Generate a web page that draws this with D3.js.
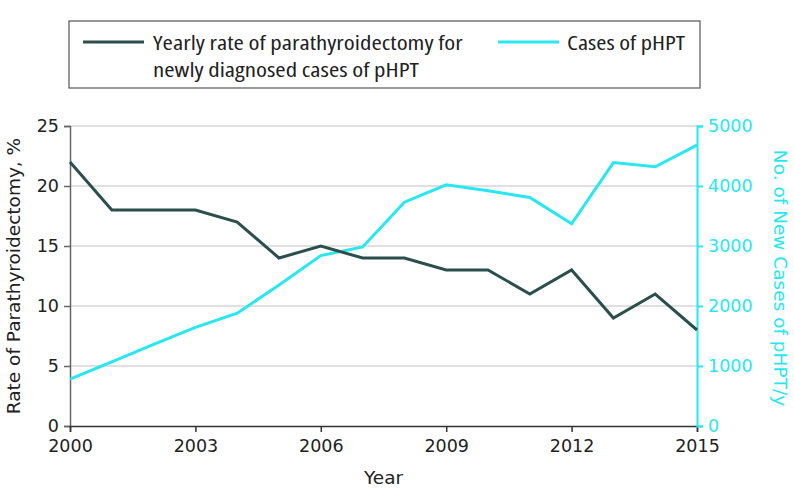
<!DOCTYPE html>
<html><head><meta charset="utf-8">
<script src="https://cdn.jsdelivr.net/npm/d3@7"></script>
<style>
body{margin:0;background:#fff;}
svg text{font-family:"DejaVu Sans",sans-serif;}
.leg{font-family:"Open Sans",sans-serif;font-stretch:87.5%;}
</style></head>
<body><svg id="c" width="794" height="504"></svg>
<script>
const years = [2000,2001,2002,2003,2004,2005,2006,2007,2008,2009,2010,2011,2012,2013,2014,2015];
const rate = [22,18,18,18,17,14,15,14,14,13,13,11,13,9,11,8];
const cases = [780,1070,1360,1645,1880,2350,2840,2985,3730,4020,3920,3810,3370,4390,4320,4680];
const xTicks = [2000,2003,2006,2009,2012,2015];
const yTicksLeft = [0,5,10,15,20,25];
const yTicksRight = [0,1000,2000,3000,4000,5000];
const legendLabels = [["Yearly rate of parathyroidectomy for","newly diagnosed cases of pHPT"],["Cases of pHPT"]];

const dark = "#2b4f4c", cyan = "#27e8f0";
const svg = d3.select("#c");
const m = {l:70, r:697, t:126, b:426};
const x = d3.scaleLinear().domain([2000,2015]).range([m.l,m.r]);
const yL = d3.scaleLinear().domain([0,25]).range([m.b,m.t]);
const yR = d3.scaleLinear().domain([0,5000]).range([m.b,m.t]);

// grid
svg.append("g").selectAll("line").data(yTicksLeft.filter(d=>d>0)).join("line")
  .attr("x1",m.l).attr("x2",m.r).attr("y1",d=>yL(d)).attr("y2",d=>yL(d))
  .attr("stroke","#d6d6d6").attr("stroke-width",1.5);

// left axis
const gL = svg.append("g").attr("transform",`translate(${m.l},0)`)
  .call(d3.axisLeft(yL).tickValues(yTicksLeft).tickSize(6).tickPadding(5));
gL.select(".domain").attr("stroke","#666").attr("stroke-width",1.5);
gL.selectAll(".tick line").attr("stroke","#666").attr("stroke-width",1.5);
gL.selectAll("text").attr("fill","#222");

// x axis
const gX = svg.append("g").attr("transform",`translate(0,${m.b})`)
  .call(d3.axisBottom(x).tickValues(xTicks).tickFormat(d3.format("d")).tickSize(6).tickPadding(8));
gX.select(".domain").attr("stroke","#333").attr("stroke-width",1.5);
gX.selectAll(".tick line").attr("stroke","#333").attr("stroke-width",1.5);
gX.selectAll("text").attr("fill","#222");

// right axis
const gR = svg.append("g").attr("transform",`translate(${m.r},0)`)
  .call(d3.axisRight(yR).tickValues(yTicksRight).tickFormat(d3.format("d")).tickSize(6).tickPadding(5));
gR.select(".domain").attr("stroke",cyan).attr("stroke-width",2);
gR.selectAll(".tick line").attr("stroke",cyan).attr("stroke-width",2);
gR.selectAll("text").attr("fill",cyan);
svg.selectAll("g").attr("font-family",null).attr("font-size",null);
svg.selectAll(".tick text").style("font-family","'DejaVu Sans',sans-serif").style("font-size","17.5px");

// lines
const lineR = d3.line().x((d,i)=>x(years[i])).y(d=>yL(d));
const lineC = d3.line().x((d,i)=>x(years[i])).y(d=>yR(d));
svg.append("path").datum(cases).attr("d",lineC).attr("fill","none").attr("stroke",cyan).attr("stroke-width",3);
svg.append("path").datum(rate).attr("d",lineR).attr("fill","none").attr("stroke",dark).attr("stroke-width",3);

// axis titles
svg.append("text").attr("transform",`translate(14,276) rotate(-90)`).attr("text-anchor","middle").attr("dy","0.35em")
  .attr("font-size",18.5).attr("fill","#222").text("Rate of Parathyroidectomy, %");
svg.append("text").attr("transform",`translate(780,278) rotate(90)`).attr("text-anchor","middle").attr("dy","0.35em")
  .attr("font-size",18.5).attr("fill",cyan).text("No. of New Cases of pHPT/y");
svg.append("text").attr("x",(m.l+m.r)/2).attr("y",478).attr("text-anchor","middle").attr("dy","0.35em")
  .attr("font-size",18.5).attr("fill","#222").text("Year");

// legend
const lg = svg.append("g");
lg.append("rect").attr("x",69).attr("y",21).attr("width",631).attr("height",67)
  .attr("fill","#fff").attr("stroke","#555").attr("stroke-width",1.2);
const items = [
  {c:dark,x:83,tx:153,w:310,lab:legendLabels[0]},
  {c:cyan,x:498,tx:567,w:118,lab:legendLabels[1]}
];
items.forEach(it=>{
  lg.append("line").attr("x1",it.x).attr("x2",it.x+61).attr("y1",42).attr("y2",42).attr("stroke",it.c).attr("stroke-width",3);
  it.lab.forEach((t,j)=>{
    const tx = lg.append("text").attr("class","leg")
      .attr("x",it.tx).attr("y",50+j*27)
      .attr("font-size",19.5).attr("fill","#222").text(t);
    if (j===0) { // fit first-line width, reuse same horizontal scale for following lines
      const len = tx.node().getComputedTextLength();
      it.k = it.w/len;
    }
    tx.attr("x",null).attr("y",null)
      .attr("transform",`translate(${it.tx},${50+j*27}) scale(${it.k},1)`);
  });
});
</script></body></html>
